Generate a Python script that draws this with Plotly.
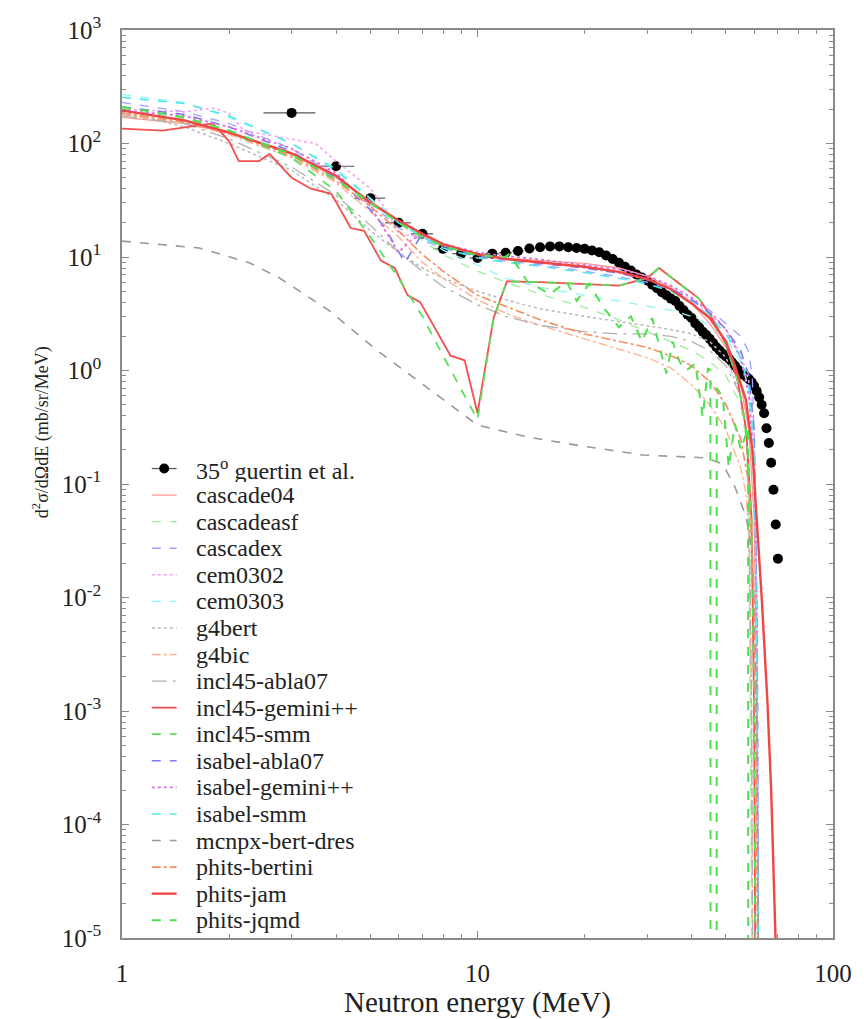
import plotly.graph_objects as go

# ---------------- data ----------------
exp_E = [3, 4, 5, 6, 7, 8, 9, 10, 11, 12, 13, 14, 15, 16, 17, 18, 19, 20, 21, 22, 23,
         24, 25, 26, 27, 28, 29, 30, 31, 32, 33, 34, 35, 36, 37, 38, 39, 40, 41, 42,
         43, 44, 45, 46, 47, 48, 49, 50, 51, 52, 53, 54, 55, 56, 57, 58, 59, 60, 61,
         62, 63, 64, 65, 66, 67, 68, 69, 70]
exp_val = [186, 63, 33, 20, 16, 11.8, 10.7, 9.8, 10.7, 10.9, 11.3, 11.9, 12.2, 12.4, 12.4,
           12.2, 12.0, 11.8, 11.4, 11.0, 10.3, 9.6, 8.9, 8.2, 7.6, 7.0, 6.6, 6.2, 5.7, 5.3,
           4.9, 4.6, 4.3, 4.1, 3.7, 3.4, 3.1, 2.9, 2.6, 2.4, 2.2, 2.05, 1.9, 1.75, 1.6, 1.5,
           1.4, 1.33, 1.27, 1.18, 1.1, 1.02, 0.96, 0.92, 0.88, 0.84, 0.79, 0.73, 0.66, 0.58,
           0.5, 0.42, 0.31, 0.23, 0.154, 0.089, 0.044, 0.022]
exp_dE = [0.5] * len(exp_E)

cascade04_E = [1, 1.5, 2, 3, 4, 5, 6, 7, 8, 10, 12, 15, 20, 25, 30, 35, 40, 45, 50, 55, 58, 60, 61, 62]
cascade04_y = [170, 150, 125, 80, 50, 31, 21, 15.5, 12.5, 10.5, 9.8, 9.3, 8.8, 8.0, 6.8, 5.4, 3.9, 2.6,
               1.6, 0.75, 0.3, 0.05, 2e-3, 1e-7]

cascadeasf_E = [1, 1.5, 2, 3, 4, 5, 6, 7, 8, 10, 12, 15, 20, 25, 30, 35, 40, 45, 50, 55, 57, 58, 59, 60]
cascadeasf_y = [200, 165, 130, 78, 48, 30, 20, 14, 10.5, 7.5, 6.0, 4.7, 3.6, 2.8, 2.2, 1.8, 1.5, 1.2,
                0.9, 0.5, 0.25, 0.05, 1e-4, 1e-8]

cascadex_E = [1, 1.5, 2, 3, 4, 5, 6, 7, 8, 10, 12, 15, 20, 25, 30, 35, 40, 45, 50, 55, 57.7, 59.3, 60.5, 61.5, 62]
cascadex_y = [230, 190, 150, 90, 52, 30, 18, 14, 12, 10, 9.2, 8.5, 7.5, 6.7, 6.0, 5.2, 4.2, 3.4, 2.6,
              2.0, 1.5, 0.9, 0.1, 1e-3, 1e-7]

cem0302_E = [1, 1.5, 1.8, 2, 2.2, 3, 3.5, 4, 5, 5.5, 6, 7, 8, 10, 12, 15, 20, 25, 30, 35, 40, 45, 50,
             55, 58, 60, 61, 62]
cem0302_y = [200, 190, 205, 185, 130, 110, 100, 70, 40, 27, 16, 15, 13, 10.5, 9.8, 9.0, 8.0, 7.2, 6.3,
             5.3, 4.2, 3.2, 2.3, 1.4, 0.8, 0.3, 0.01, 1e-7]

cem0303_E = [1, 1.5, 2, 3, 4, 5, 6, 7, 8, 10, 12, 15, 20, 25, 30, 35, 40, 45, 50, 55, 58, 60, 61, 62]
cem0303_y = [270, 230, 170, 100, 60, 33, 21, 15, 11.5, 8.5, 6.5, 5.4, 4.6, 4.1, 3.7, 3.4, 3.0, 2.5,
             1.9, 1.2, 0.7, 0.2, 0.01, 1e-7]

g4bert_E = [1, 1.5, 2, 3, 4, 5, 6, 7, 8, 10, 12, 15, 20, 25, 30, 35, 40, 45, 50, 55, 57, 58, 59, 60]
g4bert_y = [190, 140, 100, 58, 32, 17, 11, 8, 6.5, 5.0, 4.2, 3.5, 3.0, 2.7, 2.5, 2.3, 2.1, 1.8, 1.3,
            0.6, 0.3, 0.08, 1e-3, 1e-8]

g4bic_E = [1, 1.5, 2, 3, 4, 5, 6, 7, 8, 10, 12, 15, 20, 25, 30, 35, 40, 45, 50, 55, 57, 58, 59, 60]
g4bic_y = [180, 150, 120, 75, 45, 25, 15, 9, 6.5, 4.2, 3.2, 2.5, 1.9, 1.55, 1.3, 1.05, 0.75, 0.5,
           0.3, 0.14, 0.08, 0.03, 1e-3, 1e-8]

incl_abla_E = [1, 1.5, 2, 3, 4, 5, 6, 7, 8, 10, 12, 15, 20, 25, 30, 35, 40, 45, 50, 55, 57, 58, 59, 60]
incl_abla_y = [175, 150, 110, 62, 35, 19, 11, 7.5, 5.5, 3.8, 3.0, 2.5, 2.2, 2.1, 2.1, 2.0, 1.8, 1.5,
               1.1, 0.6, 0.3, 0.1, 1e-3, 1e-8]

incl_gem_E = [1, 1.3, 1.6, 1.8, 2.0, 2.13, 2.43, 2.6, 3.0, 3.4, 3.88, 4.4, 4.8, 5.35, 5.85, 6.36, 6.9,
              8.4, 9.2, 10, 11.1, 12.1, 15, 20, 25, 30, 32.4, 36, 42, 46, 50, 54, 57, 59, 60, 61]
incl_gem_y = [135, 130, 143, 150, 105, 70, 70, 81, 50, 40, 36, 18, 17, 9.3, 8.0, 4.6, 4.0, 1.35, 1.23,
              0.42, 2.9, 6.1, 6.0, 5.8, 5.6, 6.5, 8.0, 6.2, 4.3, 2.8, 1.7, 0.8, 0.3, 0.05, 1e-3, 1e-8]

incl_smm_E = [1, 1.5, 2, 3, 4, 5, 6, 6.5, 7, 8, 9, 10, 11.1, 12.1, 15, 20, 25, 30, 32.4, 36, 42, 46,
              50, 54, 57, 59, 60, 61]
incl_smm_y = [200, 160, 125, 75, 38, 15, 6.5, 4.4, 3.0, 1.35, 0.68, 0.37, 2.9, 6.1, 6.0, 5.8, 5.6,
              6.5, 8.0, 6.2, 4.3, 2.8, 1.7, 0.8, 0.3, 0.05, 1e-3, 1e-8]

isa_abla_E = [1, 1.5, 2, 3, 4, 5, 5.5, 6.25, 6.9, 8, 10, 12, 15, 20, 25, 30, 35, 40, 45, 50, 55, 58,
              60, 61, 62]
isa_abla_y = [210, 180, 140, 85, 50, 26, 18, 8.9, 15, 12.5, 10.2, 9.5, 8.8, 8.0, 7.2, 6.3, 5.3, 4.2,
              3.2, 2.3, 1.5, 0.9, 0.3, 0.01, 1e-7]

isa_gem_E = [1, 1.5, 2, 3, 4, 5, 5.5, 6, 6.5, 7, 8, 10, 12, 15, 20, 25, 30, 35, 40, 45, 50, 55, 58,
             60, 61, 62]
isa_gem_y = [195, 175, 140, 90, 55, 28, 17, 11, 14, 16, 13, 11, 10.2, 9.5, 8.5, 7.8, 6.8, 5.6, 4.4,
             3.3, 2.3, 1.3, 0.6, 0.15, 5e-3, 1e-7]

isa_smm_E = [1, 1.5, 2, 3, 4, 5, 6, 7, 8, 10, 12, 15, 20, 25, 30, 35, 40, 45, 50, 55, 58, 60, 61, 62]
isa_smm_y = [255, 225, 175, 100, 58, 32, 20, 15, 12, 9.8, 9, 8.3, 7.3, 6.5, 5.8, 5.0, 4.0, 3.0, 2.1,
             1.3, 0.7, 0.2, 5e-3, 1e-7]

mcnpx_E = [1, 1.65, 2.28, 2.76, 3.81, 5.25, 7.25, 10, 13.8, 19, 29.2, 43.9, 49, 53, 56.9, 59.3, 61,
           62.6]
mcnpx_y = [13.8, 12.0, 8.9, 6.6, 3.4, 1.48, 0.70, 0.33, 0.26, 0.22, 0.18, 0.17, 0.15, 0.094, 0.052,
           0.026, 1e-3, 1e-8]

phits_bert_E = [1, 1.5, 2, 3, 4, 5, 6, 7, 8, 10, 15, 20, 30, 36, 40, 45, 50, 55, 58, 60, 61, 62]
phits_bert_y = [185, 155, 125, 78, 47, 28, 17, 10.5, 7.5, 4.6, 2.8, 2.1, 1.6, 1.3, 1.1, 0.8, 0.5,
                0.25, 0.1, 0.01, 1e-4, 1e-8]

phits_jam_E = [1, 1.5, 2, 3, 4, 5, 6, 7, 8, 10, 12, 15, 20, 25, 30, 35, 40, 45, 50, 53, 56.9, 59.3,
               60.6, 63.1, 65.4, 67, 68.9]
phits_jam_y = [195, 160, 125, 82, 52, 30, 21, 16, 13, 10.6, 9.6, 9.0, 8.2, 7.4, 6.4, 5.2, 3.9, 2.9,
               1.8, 1.1, 0.55, 0.2, 0.071, 9.3e-3, 1.2e-3, 2e-4, 1e-5]

phits_jqmd_E = [1, 1.5, 2, 3, 4, 5, 6, 7, 8, 10, 12, 12.3, 13.8, 16, 17.8, 19, 20.6, 22.6, 25, 27,
                29, 31, 34, 35.4, 37, 38.6, 41, 43, 44.5, 45.2, 45.4, 46.9, 47.1, 49, 50.9, 53, 55,
                57.7, 58.0]
phits_jqmd_y = [210, 170, 130, 80, 48, 30, 20, 15, 12.5, 10.3, 10, 10.7, 6.1, 4.7, 6.1, 4.1, 5.8, 3.6,
                2.4, 3.0, 1.8, 2.9, 0.94, 1.8, 1.2, 1.0, 1.15, 0.39, 1.05, 1.0, 1e-30, 1e-30, 0.7,
                0.58, 0.14, 0.34, 0.2, 0.31, 1e-30]

x_ticks = [1, 10, 100]
x_ticktext = ["1", "10", "100"]
y_ticks = [1e-5, 1e-4, 1e-3, 1e-2, 1e-1, 1, 10, 100, 1000]
y_ticktext = ["10<sup>-5</sup>", "10<sup>-4</sup>", "10<sup>-3</sup>", "10<sup>-2</sup>",
              "10<sup>-1</sup>", "10<sup>0</sup>", "10<sup>1</sup>", "10<sup>2</sup>",
              "10<sup>3</sup>"]
exp_label = "35<sup>o</sup> guertin et al."

# ---------------- styles ----------------
models = [
    ("cascade04", cascade04_E, cascade04_y, "#ff9a9a", "solid", 1.3),
    ("cascadeasf", cascadeasf_E, cascadeasf_y, "#9af09a", "dash", 1.3),
    ("cascadex", cascadex_E, cascadex_y, "#a0a0ff", "dash", 1.3),
    ("cem0302", cem0302_E, cem0302_y, "#f5a0f5", "dot", 1.5),
    ("cem0303", cem0303_E, cem0303_y, "#90f5f5", "dash", 1.3),
    ("g4bert", g4bert_E, g4bert_y, "#b8b8b8", "dot", 1.5),
    ("g4bic", g4bic_E, g4bic_y, "#ffb090", "dashdot", 1.3),
    ("incl45-abla07", incl_abla_E, incl_abla_y, "#b0b0b0", "longdashdot", 1.3),
    ("incl45-gemini++", incl_gem_E, incl_gem_y, "#f05050", "solid", 1.8),
    ("incl45-smm", incl_smm_E, incl_smm_y, "#5ae05a", "dash", 1.8),
    ("isabel-abla07", isa_abla_E, isa_abla_y, "#7a7af5", "dash", 1.6),
    ("isabel-gemini++", isa_gem_E, isa_gem_y, "#e070e0", "dot", 1.8),
    ("isabel-smm", isa_smm_E, isa_smm_y, "#50e8e8", "dash", 1.6),
    ("mcnpx-bert-dres", mcnpx_E, mcnpx_y, "#999999", "dash", 1.6),
    ("phits-bertini", phits_bert_E, phits_bert_y, "#f59060", "dashdot", 1.6),
    ("phits-jam", phits_jam_E, phits_jam_y, "#f04545", "solid", 2.4),
    ("phits-jqmd", phits_jqmd_E, phits_jqmd_y, "#4fe04f", "dash", 2.0),
]

serif = "Liberation Serif, Times New Roman, serif"
axis_col = "#8a8a8a"
text_col = "#222222"

# plot area in pixels (for placing the hand-drawn key)
PL, PR, PT, PB = 122, 838, 29, 938
def px_x(p):
    return (p - PL) / (PR - PL)
def px_y(p):
    return 1 - (p - PT) / (PB - PT)

fig = go.Figure()
fig.add_trace(go.Scatter(
    x=exp_E, y=exp_val, mode="markers", name=exp_label,
    marker=dict(color="black", size=10),
    error_x=dict(type="data", array=exp_dE, color="#555555", thickness=1.2, width=0),
))
for name, xs, ys, col, dash, w in models:
    fig.add_trace(go.Scatter(x=xs, y=ys, mode="lines", name=name,
                             line=dict(color=col, dash=dash, width=w)))

# ---------------- key (legend) drawn inside the frame ----------------
key_top, key_step = 468, 26.6
key_x0, key_x1, key_text = 152, 177, 196
annotations = []
shapes = []
labels = [exp_label] + [m[0] for m in models]
for i, lab in enumerate(labels):
    yy = key_top + key_step * i
    annotations.append(dict(text=lab, xref="paper", yref="paper", x=px_x(key_text), y=px_y(yy),
                            xanchor="left", yanchor="middle", showarrow=False, height=26,
                            valign="middle", borderpad=0,
                            font=dict(family=serif, size=24, color=text_col)))
    if i == 0:
        shapes.append(dict(type="line", xref="paper", yref="paper", x0=px_x(key_x0), x1=px_x(key_x1),
                           y0=px_y(yy), y1=px_y(yy), line=dict(color="#555555", width=1.2)))
        shapes.append(dict(type="circle", xref="paper", yref="paper",
                           x0=px_x(164.5 - 5), x1=px_x(164.5 + 5), y0=px_y(yy - 5), y1=px_y(yy + 5),
                           fillcolor="black", line=dict(color="black", width=0)))
    else:
        _, _, _, col, dash, w = models[i - 1]
        shapes.append(dict(type="line", xref="paper", yref="paper", x0=px_x(key_x0), x1=px_x(key_x1),
                           y0=px_y(yy), y1=px_y(yy), line=dict(color=col, dash=dash, width=w)))

annotations += [
    dict(text="Neutron energy (MeV)", xref="paper", yref="paper", x=0.5, y=px_y(1003),
         xanchor="center", yanchor="middle", showarrow=False,
         font=dict(family=serif, size=29, color=text_col)),
    dict(text="d<sup>2</sup>σ/dΩdE (mb/sr/MeV)", xref="paper", yref="paper",
         x=px_x(40), y=px_y(432), xanchor="center", yanchor="middle", textangle=-90,
         showarrow=False, font=dict(family=serif, size=18, color=text_col)),
]

x_minor = [k * 10 ** n for n in range(0, 2) for k in range(2, 10)]
y_minor = [k * 10.0 ** n for n in range(-5, 3) for k in range(2, 10)]

fig.update_layout(
    width=864, height=1019, autosize=False,
    margin=dict(l=PL, r=864 - PR, t=PT, b=1019 - PB),
    paper_bgcolor="white", plot_bgcolor="white",
    font=dict(family=serif, color=text_col),
    showlegend=False,
    xaxis=dict(type="log", range=[0, 2], tickmode="array", tickvals=x_ticks, ticktext=x_ticktext,
               ticks="inside", ticklen=7, tickcolor=axis_col, tickwidth=1,
               showline=True, linecolor=axis_col, linewidth=1.5, mirror="allticks",
               showgrid=False, zeroline=False, ticklabelstandoff=12,
               tickfont=dict(family=serif, size=25, color=text_col),
               minor=dict(tickmode="array", tickvals=x_minor, ticks="inside", ticklen=4,
                          tickcolor=axis_col, showgrid=False)),
    yaxis=dict(type="log", range=[-5, 3], tickmode="array", tickvals=y_ticks, ticktext=y_ticktext,
               ticks="inside", ticklen=7, tickcolor=axis_col, tickwidth=1,
               showline=True, linecolor=axis_col, linewidth=1.5, mirror="allticks",
               showgrid=False, zeroline=False, ticklabelstandoff=14,
               tickfont=dict(family=serif, size=25, color=text_col),
               minor=dict(tickmode="array", tickvals=y_minor, ticks="inside", ticklen=4,
                          tickcolor=axis_col, showgrid=False)),
    annotations=annotations,
    shapes=shapes,
)

fig.write_html("out.html")
